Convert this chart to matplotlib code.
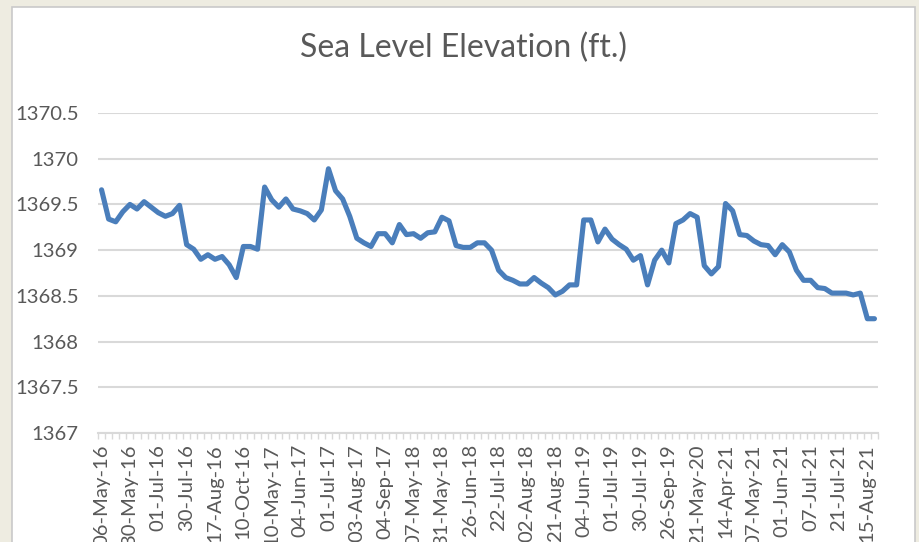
import matplotlib.pyplot as plt
from matplotlib.patches import Rectangle
import numpy as np

# 1. Data
title = "Sea Level Elevation (ft.)"

elevation = [
    1369.66, 1369.34, 1369.31, 1369.42, 1369.50, 1369.45, 1369.53, 1369.47, 1369.41, 1369.37,
    1369.40, 1369.49, 1369.06, 1369.01, 1368.90, 1368.95, 1368.90, 1368.93, 1368.84, 1368.70,
    1369.04, 1369.04, 1369.01, 1369.69, 1369.55, 1369.47, 1369.56, 1369.45, 1369.43, 1369.40,
    1369.33, 1369.44, 1369.89, 1369.65, 1369.56, 1369.37, 1369.13, 1369.08, 1369.04, 1369.18,
    1369.18, 1369.08, 1369.28, 1369.17, 1369.18, 1369.13, 1369.19, 1369.20, 1369.36, 1369.32,
    1369.05, 1369.03, 1369.03, 1369.08, 1369.08, 1369.00, 1368.78, 1368.70, 1368.67, 1368.63,
    1368.63, 1368.70, 1368.64, 1368.59, 1368.51, 1368.55, 1368.62, 1368.62, 1369.33, 1369.33,
    1369.09, 1369.23, 1369.12, 1369.06, 1369.01, 1368.89, 1368.94, 1368.62, 1368.89, 1369.00,
    1368.86, 1369.29, 1369.33, 1369.40, 1369.36, 1368.83, 1368.74, 1368.82, 1369.51, 1369.43,
    1369.17, 1369.16, 1369.10, 1369.06, 1369.05, 1368.95, 1369.06, 1368.98, 1368.78, 1368.67,
    1368.67, 1368.59, 1368.58, 1368.53, 1368.53, 1368.53, 1368.51, 1368.53, 1368.25, 1368.25,
]

# every 4th category carries a date label
date_labels = [
    "06-May-16", "30-May-16", "01-Jul-16", "30-Jul-16", "17-Aug-16", "10-Oct-16",
    "10-May-17", "04-Jun-17", "01-Jul-17", "03-Aug-17", "04-Sep-17", "07-May-18",
    "31-May-18", "26-Jun-18", "22-Jul-18", "02-Aug-18", "21-Aug-18", "04-Jun-19",
    "01-Jul-19", "30-Jul-19", "26-Sep-19", "21-May-20", "14-Apr-21", "07-May-21",
    "01-Jun-21", "07-Jul-21", "21-Jul-21", "15-Aug-21",
]
label_step = 4

y_ticks = [1367, 1367.5, 1368, 1368.5, 1369, 1369.5, 1370, 1370.5]
y_tick_labels = ["1367", "1367.5", "1368", "1368.5", "1369", "1369.5", "1370", "1370.5"]

# 2. Style
line_color = "#4A7EBB"
grid_color = "#D9D9D9"
text_color = "#595959"
bg_color = "#EEECE1"
font = ["Lato", "DejaVu Sans"]

plt.rcParams["font.family"] = font

fig = plt.figure(figsize=(9.2, 5.42), dpi=100)
fig.patch.set_facecolor(bg_color)

# white chart panel, kept behind the axes
fig.patches.append(Rectangle((12 / 920, -0.05), 903 / 920, 1 - 7 / 542 + 0.05,
                             transform=fig.transFigure, facecolor="white",
                             edgecolor="#C9C9C9", linewidth=1.2, zorder=-5))

ax = fig.add_axes([98 / 920, 1 - 433 / 542, 780 / 920, 320 / 542])
ax.set_facecolor("none")

x = np.arange(len(elevation))
ax.plot(x, elevation, color=line_color, linewidth=3.7, solid_joinstyle="round",
        solid_capstyle="round", zorder=3)

ax.set_xlim(-0.5, len(elevation) - 0.5)
ax.set_ylim(y_ticks[0], y_ticks[-1])

ax.set_yticks(y_ticks)
ax.set_yticklabels(y_tick_labels)
ax.tick_params(axis="y", length=0, pad=14, labelsize=14.6, labelcolor=text_color)
ax.yaxis.grid(True, color=grid_color, linewidth=1.5, zorder=1)
ax.set_axisbelow(True)

ax.set_xticks(x[::label_step])
ax.set_xticklabels(date_labels, rotation=90)
ax.set_xticks(np.arange(len(elevation) + 1) - 0.5, minor=True)
ax.tick_params(axis="x", which="major", length=0, pad=8, labelsize=14.6,
               labelcolor=text_color)
ax.tick_params(axis="x", which="minor", length=4, width=1, color=grid_color)

for side in ["left", "right", "top"]:
    ax.spines[side].set_visible(False)
ax.spines["bottom"].set_color(grid_color)
ax.spines["bottom"].set_linewidth(1.5)

fig.text(464 / 920, 1 - 48 / 542, title, ha="center", va="center",
         fontsize=23, color=text_color)

plt.savefig("out.png", dpi=100, facecolor=fig.get_facecolor())
plt.close(fig)
